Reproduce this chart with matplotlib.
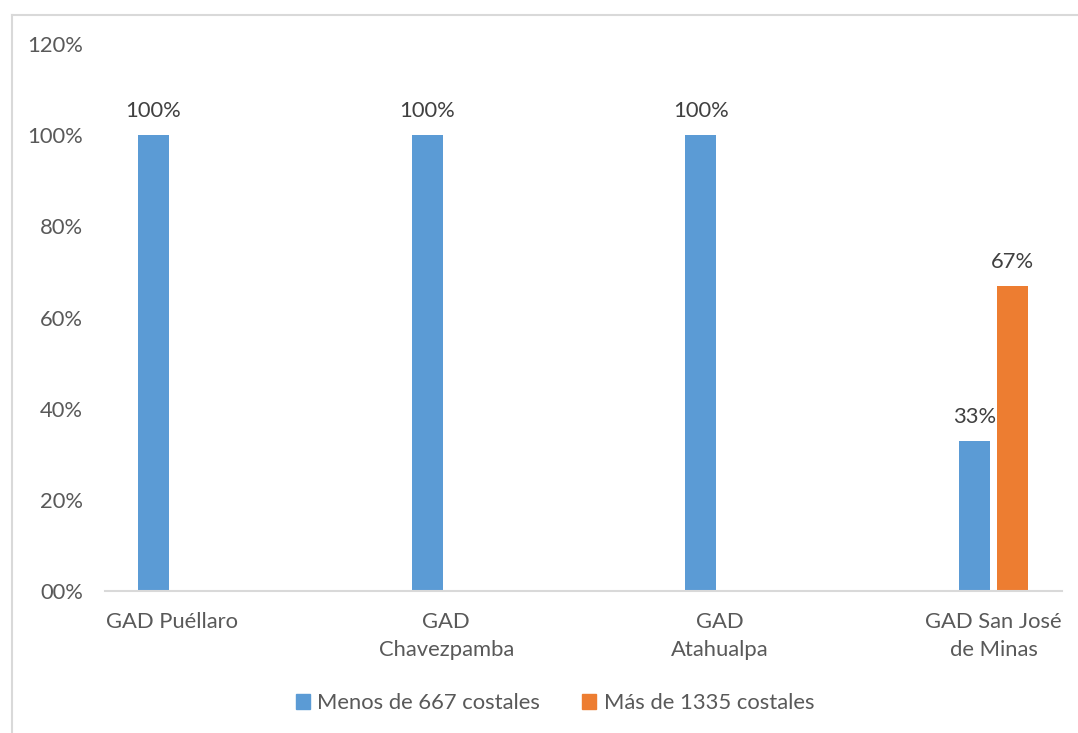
import matplotlib
matplotlib.use("Agg")
import matplotlib.pyplot as plt
from matplotlib.patches import Patch
from matplotlib.lines import Line2D
import numpy as np

categories = ["GAD Puéllaro", "GAD\nChavezpamba", "GAD\nAtahualpa", "GAD San José\nde Minas"]
series_names = ["Menos de 667 costales", "Más de 1335 costales"]
menos_667 = [1.00, 1.00, 1.00, 0.33]
mas_1335 = [None, None, None, 0.67]
ytick_vals = [0, 0.2, 0.4, 0.6, 0.8, 1.0, 1.2]
ytick_labels = ["00%", "20%", "40%", "60%", "80%", "100%", "120%"]

BLUE = "#5B9BD5"
ORANGE = "#ED7D31"
TXT = "#595959"
LBL = "#404040"
FONT = ["Lato", "DejaVu Sans"]
plt.rcParams['font.family'] = FONT
FS = 15.8

W, H = 1078, 733
fig = plt.figure(figsize=(W/100, H/100), dpi=100)
ax = fig.add_axes([105/W, (H-591)/H, 957/W, 547/H])

x = np.arange(len(categories))
bw = 0.113
off = 0.0694

for i, v in enumerate(menos_667):
    if v is not None:
        ax.bar(x[i]-off, v, width=bw, color=BLUE)
        ax.annotate(f"{round(v*100)}%", (x[i]-off, v), xytext=(0, 10), textcoords="offset points",
                    ha="center", va="bottom", fontsize=FS, color=LBL)
for i, v in enumerate(mas_1335):
    if v is not None:
        ax.bar(x[i]+off, v, width=bw, color=ORANGE)
        ax.annotate(f"{round(v*100)}%", (x[i]+off, v), xytext=(0, 10), textcoords="offset points",
                    ha="center", va="bottom", fontsize=FS, color=LBL)

ax.set_xlim(-0.2466, 3.25)
ax.set_ylim(0, 1.2)
ax.set_yticks(ytick_vals)
ax.set_yticklabels(ytick_labels)
ax.set_xticks(x)
ax.set_xticklabels(categories, linespacing=1.5)
ax.tick_params(axis="y", length=0, pad=16, labelsize=FS, labelcolor=TXT)
ax.tick_params(axis="x", length=0, pad=15, labelsize=FS, labelcolor=TXT)
for s in ["top", "right", "left"]:
    ax.spines[s].set_visible(False)
ax.spines["bottom"].set_color("#D9D9D9")
ax.spines["bottom"].set_linewidth(1.5)

# chart border (left and top visible)
fig.add_artist(Line2D([11.5/W, 11.5/W], [0, 1-14.5/H], transform=fig.transFigure, color="#D9D9D9", lw=1.5))
fig.add_artist(Line2D([11.5/W, 1], [1-14.5/H, 1-14.5/H], transform=fig.transFigure, color="#D9D9D9", lw=1.5))

handles = [Patch(color=BLUE, label=series_names[0]), Patch(color=ORANGE, label=series_names[1])]
leg = fig.legend(handles=handles, loc="center", bbox_to_anchor=(555/W, 1-703/H), ncol=2, frameon=False,
                 fontsize=FS, handlelength=0.65, handleheight=0.65, handletextpad=0.35, columnspacing=1.9,
                 labelcolor=TXT)

fig.savefig("out.png", dpi=100, facecolor="white")
